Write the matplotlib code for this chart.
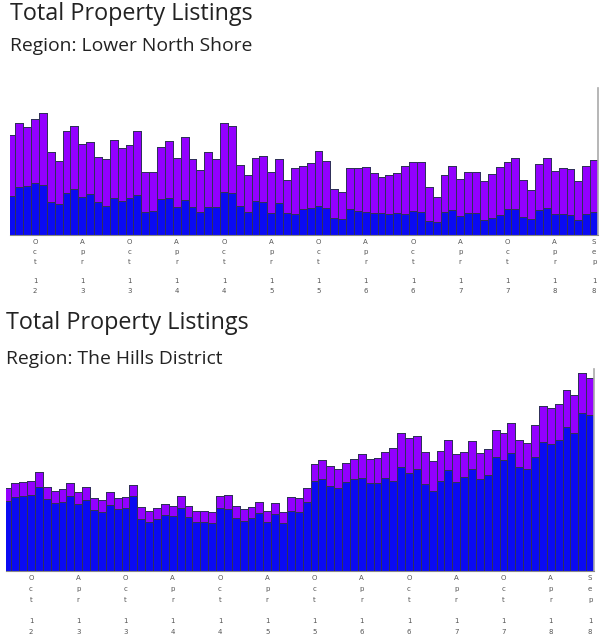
import matplotlib
matplotlib.use("Agg")
import matplotlib.pyplot as plt

# ---- data (monthly, Jul 2012 .. Sep 2018) ----
months = ["Jul 12","Aug 12","Sep 12","Oct 12","Nov 12","Dec 12",
          "Jan 13","Feb 13","Mar 13","Apr 13","May 13","Jun 13",
          "Jul 13","Aug 13","Sep 13","Oct 13","Nov 13","Dec 13",
          "Jan 14","Feb 14","Mar 14","Apr 14","May 14","Jun 14",
          "Jul 14","Aug 14","Sep 14","Oct 14","Nov 14","Dec 14",
          "Jan 15","Feb 15","Mar 15","Apr 15","May 15","Jun 15",
          "Jul 15","Aug 15","Sep 15","Oct 15","Nov 15","Dec 15",
          "Jan 16","Feb 16","Mar 16","Apr 16","May 16","Jun 16",
          "Jul 16","Aug 16","Sep 16","Oct 16","Nov 16","Dec 16",
          "Jan 17","Feb 17","Mar 17","Apr 17","May 17","Jun 17",
          "Jul 17","Aug 17","Sep 17","Oct 17","Nov 17","Dec 17",
          "Jan 18","Feb 18","Mar 18","Apr 18","May 18","Jun 18",
          "Jul 18","Aug 18","Sep 18"]
tick_months = ["Oct 12","Apr 13","Oct 13","Apr 14","Oct 14","Apr 15","Oct 15",
               "Apr 16","Oct 16","Apr 17","Oct 17","Apr 18","Sep 18"]

# Lower North Shore
lns_total = [1000,1117,1083,1157,1217,827,740,1043,1093,910,933,783,757,950,867,897,1040,627,633,883,
             943,767,983,760,650,830,760,1123,1093,700,597,773,790,633,760,550,673,690,723,843,
             743,460,427,673,667,680,623,583,597,617,693,730,730,480,383,597,687,560,627,630,
             540,610,680,727,767,550,450,713,767,643,667,663,540,693,747]
lns_blue = [393,483,490,517,500,327,307,423,460,383,407,327,293,373,340,373,397,227,240,360,
            373,280,347,280,233,283,280,433,423,293,233,340,333,217,320,217,210,260,267,293,
            273,173,163,260,243,227,217,217,213,217,210,240,227,140,133,230,250,190,217,217,
            150,173,203,263,263,183,157,250,270,207,210,200,150,213,227]

# The Hills District
hills_total = [827,883,893,903,987,837,800,817,883,787,843,727,710,787,733,740,860,637,600,627,
               667,650,750,653,600,603,593,750,760,650,620,643,693,603,683,593,737,733,833,1067,
               1110,1050,1023,1077,1117,1170,1123,1133,1193,1227,1383,1333,1350,1193,1103,1200,1310,1167,1193,1300,
               1183,1217,1410,1377,1483,1310,1277,1460,1653,1627,1670,1810,1760,1983,1927]
hills_blue = [703,743,753,763,843,723,683,690,750,667,707,610,593,660,620,627,750,520,493,517,
              560,550,633,537,493,493,483,633,620,527,503,533,577,487,567,477,600,593,693,900,
              920,853,827,887,920,927,877,877,927,903,1037,983,1017,870,803,903,1010,893,937,1023,
              920,960,1137,1110,1183,1037,1017,1143,1293,1270,1310,1437,1377,1577,1560]

titles = ["Total Property Listings", "Total Property Listings"]
regions = ["Region: Lower North Shore", "Region: The Hills District"]

BLUE = "#0a0af2"
PURPLE = "#9300ff"
EDGE = "#30305a"

fig = plt.figure(figsize=(6.1, 6.4), dpi=100)
W, H = 610, 640

def fig_axes(left, top, right, bottom):
    return fig.add_axes([left / W, 1 - bottom / H, (right - left) / W, (bottom - top) / H])

def stacked_label(s):
    return "\n".join(list(s))

panels = [
    dict(total=lns_total, blue=lns_blue, box=(10, 88, 598, 235), ymax=1470,
         title_y=20, sub_y=51, tx=10, ls=1.75),
    dict(total=hills_total, blue=hills_blue, box=(6, 369, 594, 571), ymax=2020,
         title_y=329, sub_y=363.5, tx=6, ls=1.95),
]

for k, p in enumerate(panels):
    ax = fig_axes(*p["box"])
    x = list(range(len(months)))
    purple = [t - b for t, b in zip(p["total"], p["blue"])]
    ax.bar(x, p["blue"], width=1.0, color=BLUE, edgecolor=EDGE, linewidth=0.72,
           antialiased=False)
    ax.bar(x, purple, bottom=p["blue"], width=1.0, color=PURPLE, edgecolor=EDGE,
           linewidth=0.72, antialiased=False)
    ax.set_xlim(-0.18, len(months) - 0.5)
    ax.set_ylim(0, p["ymax"])
    ax.set_yticks([])
    ticks = [months.index(m) for m in tick_months]
    ax.set_xticks(ticks)
    ax.set_xticklabels([stacked_label(m) for m in tick_months], fontsize=5,
                       color="#555555", linespacing=p["ls"], family="DejaVu Sans")
    ax.tick_params(axis="x", length=0, pad=3)
    for s in ["top", "left"]:
        ax.spines[s].set_visible(False)
    ax.spines["right"].set_color("#aaaaaa")
    ax.spines["right"].set_linewidth(1.2)
    ax.spines["bottom"].set_color("#888888")
    ax.spines["bottom"].set_linewidth(0.8)
    fig.text(p["tx"] / W, 1 - p["title_y"] / H, titles[k], fontsize=16.8,
             family="Open Sans", color="#222222", va="baseline", ha="left")
    fig.text(p["tx"] / W, 1 - p["sub_y"] / H, regions[k], fontsize=13.9,
             family="Open Sans", color="#222222", va="baseline", ha="left")

fig.savefig("out.png", dpi=100)
